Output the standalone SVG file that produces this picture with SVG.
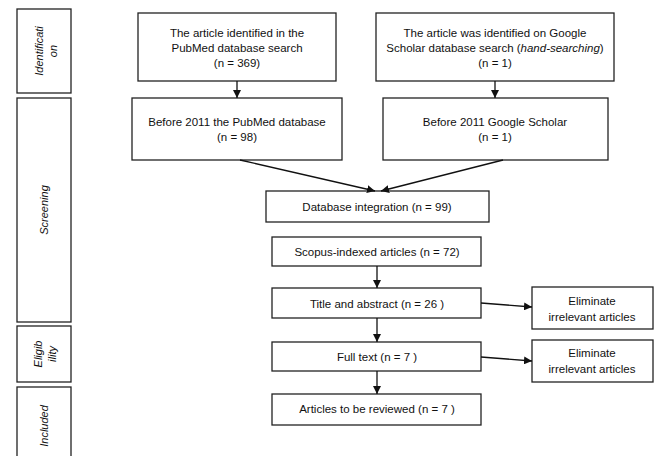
<svg xmlns="http://www.w3.org/2000/svg" width="659" height="456" viewBox="0 0 659 456">
<defs>
<marker id="ah" viewBox="0 0 10 10" refX="10" refY="5" markerWidth="8" markerHeight="8" markerUnits="userSpaceOnUse" orient="auto">
<path d="M0,0 L10,5 L0,10 z" fill="#111"/>
</marker>
<style>
rect{fill:#fff;stroke:#222;stroke-width:1.3}
text{font-family:"Liberation Sans",Arial,sans-serif;font-size:11.5px;fill:#111;text-anchor:middle}
.side{font-style:italic;font-size:11px}
.con line{stroke:#111;stroke-width:1.3;marker-end:url(#ah)}
</style>
</defs>
<rect width="659" height="456" style="fill:#fff;stroke:none"/>
<g id="stage-identification"><rect x="17" y="9" width="54" height="84"/><text class="side" transform="translate(43,51) rotate(-90)"><tspan x="0" y="0">Identificati</tspan><tspan x="0" y="14">on</tspan></text></g>
<g id="stage-screening"><rect x="17" y="98" width="54" height="224"/><text class="side" transform="translate(48,210) rotate(-90)">Screening</text></g>
<g id="stage-eligibility"><rect x="17" y="326" width="54" height="56"/><text class="side" transform="translate(42,354) rotate(-90)"><tspan x="0" y="0">Eligib</tspan><tspan x="0" y="14">ility</tspan></text></g>
<g id="stage-included"><rect x="17" y="387" width="54" height="80"/><text class="side" transform="translate(48,426) rotate(-90)">Included</text></g>
<g id="pubmed"><rect x="138" y="13" width="198" height="68"/><text x="237" y="37">The article identified in the</text><text x="237" y="52">PubMed database search</text><text x="237" y="67">(n = 369)</text></g>
<g id="google"><rect x="376" y="13" width="238" height="68"/><text x="495" y="37">The article was identified on Google</text><text x="495" y="52">Scholar database search (<tspan font-style="italic">hand-searching</tspan>)</text><text x="495" y="67">(n = 1)</text></g>
<g id="pubmed2011"><rect x="132" y="98" width="210" height="62"/><text x="237" y="126">Before 2011 the PubMed database</text><text x="237" y="141">(n = 98)</text></g>
<g id="google2011"><rect x="383" y="98" width="225" height="62"/><text x="495" y="126">Before 2011 Google Scholar</text><text x="495" y="141">(n = 1)</text></g>
<g id="integration"><rect x="266" y="191" width="223" height="31"/><text x="377" y="211">Database integration (n = 99)</text></g>
<g id="scopus"><rect x="272" y="237" width="209" height="29"/><text x="377" y="256">Scopus-indexed articles (n = 72)</text></g>
<g id="title"><rect x="272" y="288" width="209" height="30"/><text x="377" y="308">Title and abstract (n = 26 )</text></g>
<g id="fulltext"><rect x="272" y="342" width="209" height="29"/><text x="377" y="361">Full text (n = 7 )</text></g>
<g id="reviewed"><rect x="272" y="394" width="209" height="31"/><text x="377" y="413">Articles to be reviewed (n = 7 )</text></g>
<g id="elim1"><rect x="532" y="287" width="121" height="42"/><text x="592" y="305">Eliminate</text><text x="592" y="321">irrelevant articles</text></g>
<g id="elim2"><rect x="532" y="340" width="121" height="42"/><text x="592" y="357">Eliminate</text><text x="592" y="373">irrelevant articles</text></g>
<g class="con" id="connectors">
<line x1="237" y1="81" x2="237" y2="98"/>
<line x1="495" y1="81" x2="495" y2="98"/>
<line x1="240" y1="160" x2="375" y2="191"/>
<line x1="503" y1="160" x2="381" y2="191"/>
<line x1="377" y1="266" x2="377" y2="288"/>
<line x1="377" y1="318" x2="377" y2="342"/>
<line x1="377" y1="371" x2="377" y2="394"/>
<line x1="481" y1="303" x2="532" y2="307"/>
<line x1="481" y1="357" x2="532" y2="361"/>
</g>
</svg>
